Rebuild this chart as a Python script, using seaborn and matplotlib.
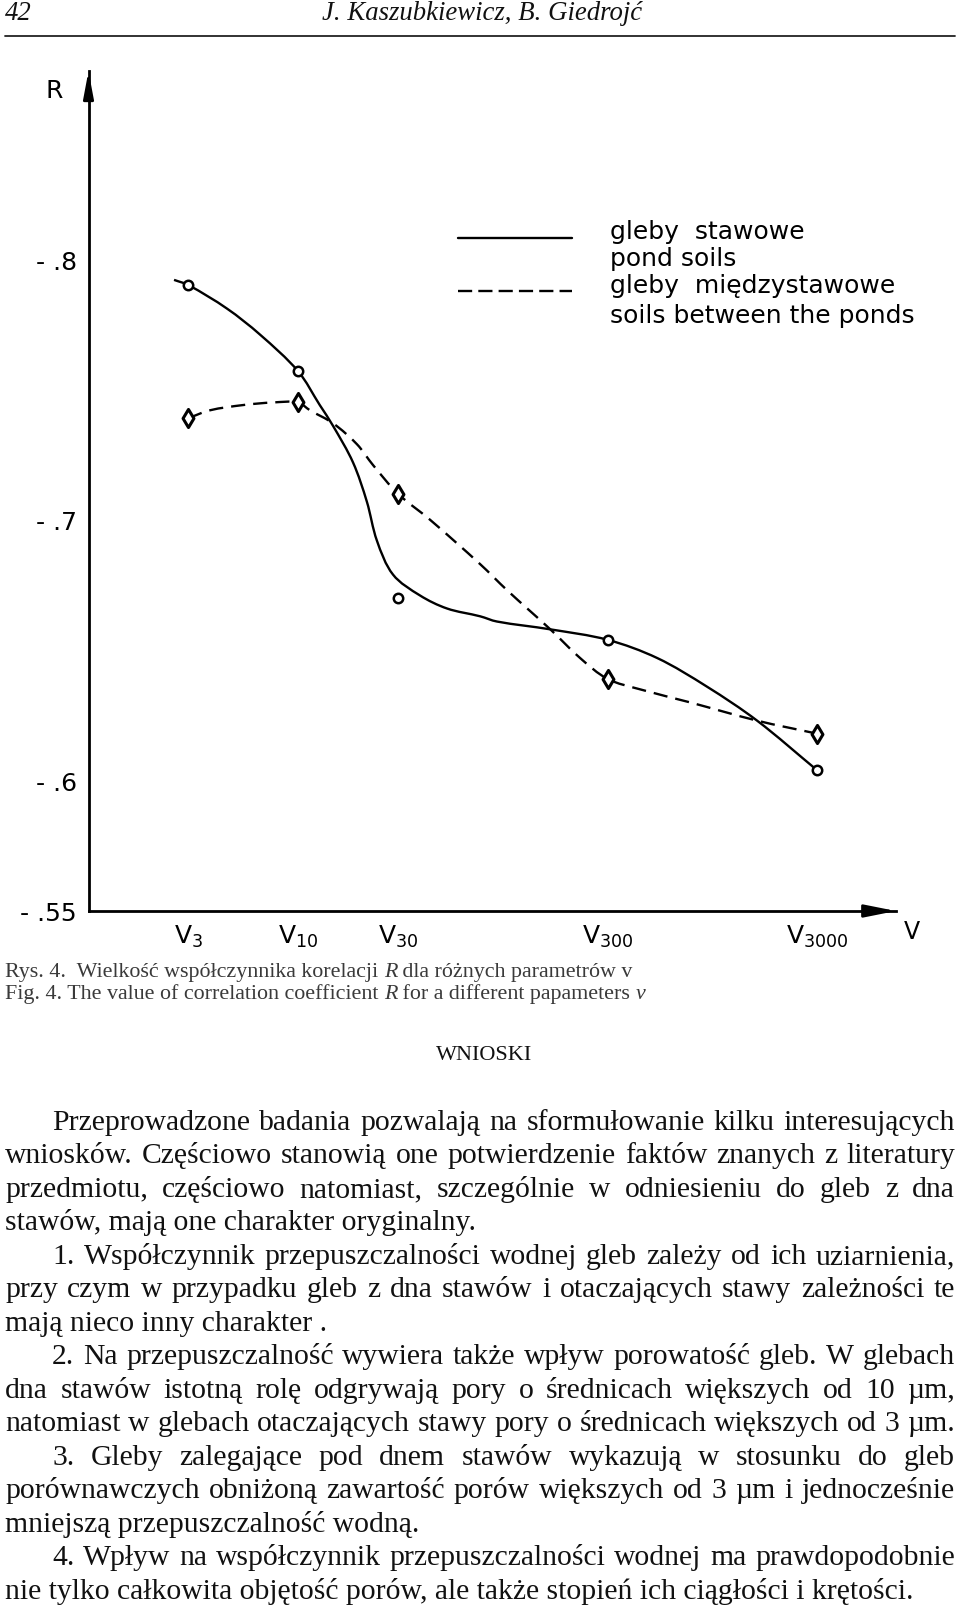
import numpy as np
import pandas as pd
import matplotlib
matplotlib.use("Agg")
import matplotlib.pyplot as plt
from matplotlib.lines import Line2D
from matplotlib.path import Path
from matplotlib.patches import PathPatch
import seaborn as sns

# values of the correlation coefficient R for the parameters v
v_params = [3, 10, 30, 300, 3000]
v_labels = [r"$\mathregular{V_{3}}$", r"$\mathregular{V_{10}}$", r"$\mathregular{V_{30}}$",
            r"$\mathregular{V_{300}}$", r"$\mathregular{V_{3000}}$"]
r_pond = [-0.790, -0.757, -0.670, -0.654, -0.604]
r_between = [-0.739, -0.745, -0.710, -0.639, -0.618]

# the hand drawn curves
pond_curve_v = [2.56, 3, 4.58, 6.59, 10, 12.7, 14.7, 18.3, 21.3, 23.8, 28.4, 38.2, 51.4,
                74, 89, 160, 300, 518, 896, 1552, 3000]
pond_curve_r = [-0.792, -0.790, -0.781, -0.771, -0.757, -0.744, -0.736, -0.722, -0.707,
                -0.692, -0.679, -0.671, -0.666, -0.663, -0.661, -0.658, -0.654, -0.647,
                -0.636, -0.623, -0.604]
between_curve_v = [3, 3.8, 5.46, 7.6, 10, 11.4, 14.7, 19.1, 22.8, 30, 42.7, 74, 99.5,
                   160, 222, 300, 429, 743, 1552, 3000]
between_curve_r = [-0.739, -0.742, -0.744, -0.745, -0.745, -0.742, -0.737, -0.729, -0.721,
                   -0.710, -0.700, -0.683, -0.673, -0.658, -0.647, -0.639, -0.635, -0.630,
                   -0.623, -0.618]

y_ticks = [-0.8, -0.7, -0.6, -0.55]
y_ticklabels = ["- .8", "- .7", "- .6", "- .55"]
legend_pond = ["gleby  stawowe", "pond soils"]
legend_between = ["gleby  międzystawowe", "soils between the ponds"]

header_left = "42"
header_mid = "J. Kaszubkiewicz, B. Giedrojć"
caption_pl = [("Rys. 4.  Wielkość współczynnika korelacji ", "normal"), ("R", "italic"),
              (" dla różnych parametrów v", "normal")]
caption_en = [("Fig. 4. The value of correlation coefficient ", "normal"), ("R", "italic"),
              (" for a different papameters ", "normal"), ("v", "italic")]
section_title = "WNIOSKI"
# (text, indented, justified)
body_lines = [
    ("Przeprowadzone badania pozwalają na sformułowanie kilku interesujących", True, True),
    ("wniosków. Częściowo stanowią one potwierdzenie faktów znanych z literatury", False, True),
    ("przedmiotu, częściowo natomiast, szczególnie w odniesieniu do gleb z dna", False, True),
    ("stawów, mają one charakter oryginalny.", False, False),
    ("1. Współczynnik przepuszczalności wodnej gleb zależy od ich uziarnienia,", True, True),
    ("przy czym w przypadku gleb z dna stawów i otaczających stawy zależności te", False, True),
    ("mają nieco inny charakter .", False, False),
    ("2. Na przepuszczalność wywiera także wpływ porowatość gleb. W glebach", True, True),
    ("dna stawów istotną rolę odgrywają pory o średnicach większych od 10 µm,", False, True),
    ("natomiast w glebach otaczających stawy pory o średnicach większych od 3 µm.", False, True),
    ("3. Gleby zalegające pod dnem stawów wykazują w stosunku do gleb", True, True),
    ("porównawczych obniżoną zawartość porów większych od 3 µm i jednocześnie", False, True),
    ("mniejszą przepuszczalność wodną.", False, False),
    ("4. Wpływ na współczynnik przepuszczalności wodnej ma prawdopodobnie", True, True),
    ("nie tylko całkowita objętość porów, ale także stopień ich ciągłości i krętości.", False, False),
]

sns.set_theme(style="white")
plt.rcParams['font.family'] = ['DejaVu Sans']
plt.rcParams['mathtext.fontset'] = 'dejavusans'

W, H = 960, 1615
fig = plt.figure(figsize=(W / 100, H / 100), dpi=100)
fig.patch.set_facecolor("white")


def fx(x):
    return x / W


def fy(y):
    return 1 - y / H


def smooth_path(vs, rs):
    # smooth hand-drawn look: bezier segments through the traced knots (log-x space)
    sx, sy = 209.5, 2622.0
    P = np.column_stack([np.log10(vs) * sx, np.asarray(rs) * sy])
    n = len(P)
    T = np.zeros_like(P)
    for i in range(n):
        d = P[min(i + 1, n - 1)] - P[max(i - 1, 0)]
        T[i] = d / np.hypot(*d)
    verts, codes = [P[0]], [Path.MOVETO]
    for i in range(n - 1):
        L = np.hypot(*(P[i + 1] - P[i]))
        verts += [P[i] + T[i] * L / 3, P[i + 1] - T[i + 1] * L / 3, P[i + 1]]
        codes += [Path.CURVE4] * 3
    verts = np.array(verts)
    verts[:, 0] = 10 ** (verts[:, 0] / sx)
    verts[:, 1] = verts[:, 1] / sy
    return Path(verts, codes)


# ---- chart ----
ax = fig.add_axes([fx(88.5), fy(912), (896 - 88.5) / W, (912 - 72) / H])
ax.set_facecolor("white")
ax.set_xscale("log")

sns.scatterplot(x=v_params, y=r_pond, ax=ax, marker="o", s=46, color="white",
                edgecolor="black", linewidth=1.8, zorder=4)
sns.scatterplot(x=v_params, y=r_between, ax=ax, marker="d", s=85, color="white",
                edgecolor="black", linewidth=2.2, zorder=4)

ax.set_xlim(1, 10 ** 3.854)
ax.set_ylim(-0.55, -0.8721)
ax.set_xlabel("")
ax.set_ylabel("")

ax.add_patch(PathPatch(smooth_path(pond_curve_v, pond_curve_r), transform=ax.transData,
                       fill=False, edgecolor="black", linewidth=1.7, zorder=3))
ax.add_patch(PathPatch(smooth_path(between_curve_v, between_curve_r), transform=ax.transData,
                       fill=False, edgecolor="black", linewidth=1.7, linestyle=(0, (6, 3.4)),
                       zorder=3))

for side in ["top", "right"]:
    ax.spines[side].set_visible(False)
for side in ["left", "bottom"]:
    ax.spines[side].set_linewidth(2.0)
    ax.spines[side].set_color("black")

ax.set_xticks(v_params)
ax.set_xticklabels(v_labels)
ax.xaxis.set_minor_locator(matplotlib.ticker.NullLocator())
ax.set_yticks(y_ticks)
ax.set_yticklabels(y_ticklabels)
ax.tick_params(axis="both", direction="inout", length=11, width=1.5, color="black",
               labelcolor="black")
ax.tick_params(axis="x", labelsize=18, pad=3)
ax.tick_params(axis="y", labelsize=18, pad=3)
ax.yaxis.get_major_ticks()[-1].tick1line.set_visible(False)

# axis arrows
ax.annotate("", xy=(0, 1), xytext=(0, 0.975), xycoords="axes fraction",
            arrowprops=dict(arrowstyle="-|>,head_length=1.6,head_width=0.3", color="black",
                            lw=2.0, shrinkA=0, shrinkB=0, mutation_scale=10),
            annotation_clip=False)
ax.annotate("", xy=(1, 0), xytext=(0.97, 0), xycoords="axes fraction",
            arrowprops=dict(arrowstyle="-|>,head_length=1.9,head_width=0.38", color="black",
                            lw=2.0, shrinkA=0, shrinkB=0, mutation_scale=10),
            annotation_clip=False)

fig.text(fx(54), fy(91), "R", fontsize=18, ha="center", va="center", color="black")
fig.text(fx(912), fy(932), "V", fontsize=17, ha="center", va="center", color="black")

# legend: line samples on the left, two text lines per entry
fig.add_artist(Line2D([fx(458), fx(572)], [fy(239), fy(239)], color="black", lw=1.7,
                      transform=fig.transFigure))
fig.add_artist(Line2D([fx(458), fx(572)], [fy(292), fy(292)], color="black", lw=1.7,
                      linestyle=(0, (6, 2.6)), transform=fig.transFigure))
for s, yy in zip(legend_pond + legend_between, [232, 259, 286, 316]):
    fig.text(fx(610), fy(yy), s, fontsize=18, ha="left", va="center", color="black")

# ---- page text ----
renderer = fig.canvas.get_renderer()
serif = "Liberation Serif"


def width_of(s, size, style="normal", family=serif):
    t = fig.text(0, 0, s, fontsize=size, family=family, style=style)
    w = t.get_window_extent(renderer).width
    t.remove()
    return w


def put_runs(x, y, runs, size, color):
    for s, style in runs:
        fig.text(fx(x), fy(y), s, fontsize=size, family=serif, style=style, color=color,
                 ha="left", va="baseline")
        x += width_of(s, size, style)


# header
size_head = 10 * 320 / width_of(header_mid, 10, "italic")
fig.text(fx(482), fy(20), header_mid, fontsize=size_head, family=serif, style="italic",
         ha="center", va="baseline", color="#111111")
fig.text(fx(5), fy(20), header_left, fontsize=size_head, family=serif, style="italic",
         ha="left", va="baseline", color="#111111")
fig.add_artist(Line2D([fx(5), fx(955)], [fy(37), fy(37)], color="#222222", lw=1.3,
                      transform=fig.transFigure))

# caption
cap_w = sum(width_of(s, 10, st) for s, st in caption_pl)
size_cap = 10 * 629 / cap_w
put_runs(5, 977, caption_pl, size_cap, "#3a3a3a")
put_runs(5, 999, caption_en, size_cap, "#3a3a3a")

# section title
fig.text(fx(484), fy(1060), section_title, fontsize=16, family=serif, ha="center",
         va="baseline", color="#111111")

# body, justified
left, right, indent = 5, 955, 52
ratios = []
for text, ind, just in body_lines:
    avail = right - (indent if ind else left)
    ratios.append(width_of(text, 10) / avail)
size_body = 10 / max(ratios) * 0.995

base0, step = 1130, 33.5
for i, (text, ind, just) in enumerate(body_lines):
    y = base0 + i * step
    x0 = indent if ind else left
    if not just:
        fig.text(fx(x0), fy(y), text, fontsize=size_body, family=serif, ha="left",
                 va="baseline", color="#111111")
        continue
    words = text.split(" ")
    widths = [width_of(w, size_body) for w in words]
    gap = (right - x0 - sum(widths)) / (len(words) - 1)
    x = x0
    for w, ww in zip(words, widths):
        fig.text(fx(x), fy(y), w, fontsize=size_body, family=serif, ha="left",
                 va="baseline", color="#111111")
        x += ww + gap

fig.savefig("out.png", dpi=100, facecolor="white")
